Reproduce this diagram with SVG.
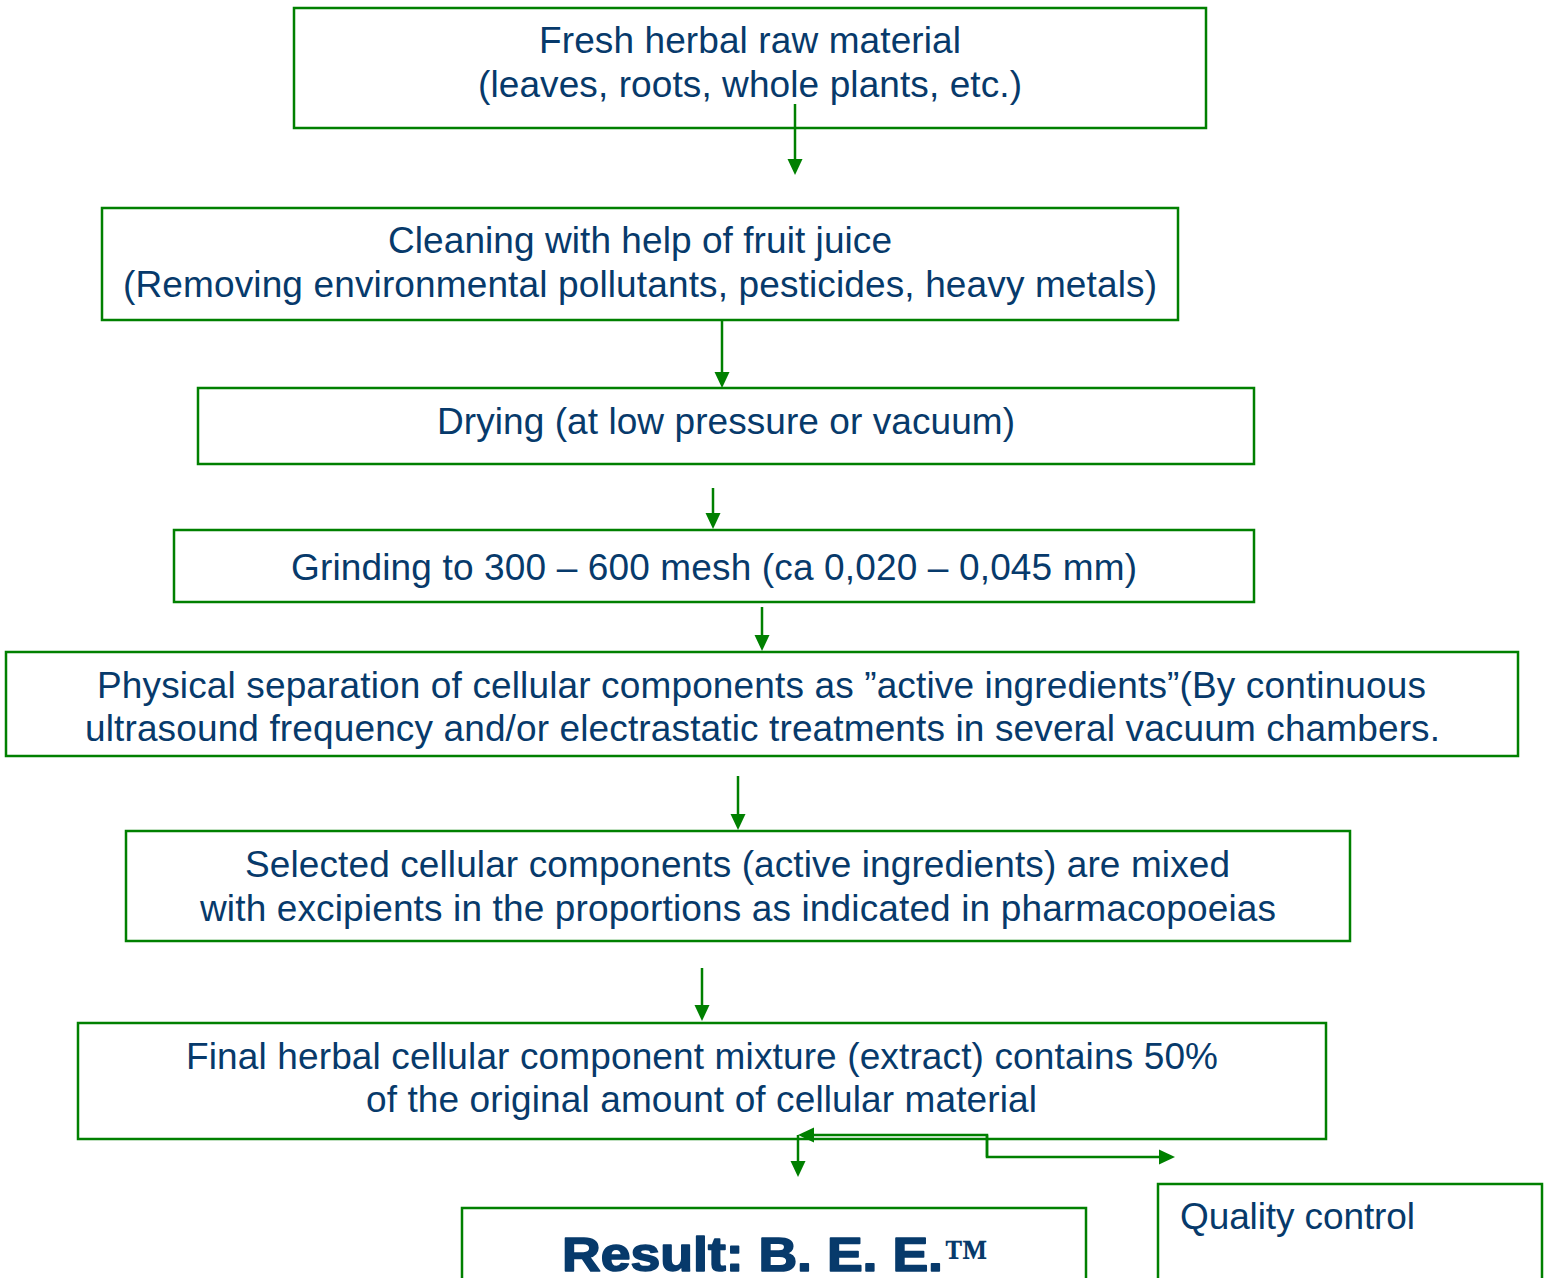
<svg xmlns="http://www.w3.org/2000/svg" width="1552" height="1278" viewBox="0 0 1552 1278">
<style>
.box{fill:#fff;stroke:#008000;stroke-width:2.5}
.t{font-family:"Liberation Sans",Arial,sans-serif;font-size:37px;fill:#073a6b;text-anchor:middle}
.tl{font-family:"Liberation Sans",Arial,sans-serif;font-size:37px;fill:#073a6b}
.c{fill:none;stroke:#008000;stroke-width:2.5;marker-end:url(#ah)}
</style>
<defs>
<marker id="ah" viewBox="0 0 16 16" refX="6" refY="8" markerWidth="16" markerHeight="16" markerUnits="userSpaceOnUse" orient="auto">
<path d="M0,0.5 L16,8 L0,15.5 z" fill="#008000"/>
</marker>
</defs>
<rect width="1552" height="1278" fill="#fff"/>
<g id="n1">
<rect class="box" x="294" y="8" width="912" height="120"/>
<text class="t" x="750" y="53" textLength="422">Fresh herbal raw material</text>
<text class="t" x="750" y="97" textLength="544">(leaves, roots, whole plants, etc.)</text>
</g>
<g id="n2">
<rect class="box" x="102" y="208" width="1076" height="112"/>
<text class="t" x="640" y="253" textLength="504">Cleaning with help of fruit juice</text>
<text class="t" x="640" y="297" textLength="1034">(Removing environmental pollutants, pesticides, heavy metals)</text>
</g>
<g id="n3">
<rect class="box" x="198" y="388" width="1056" height="76"/>
<text class="t" x="726" y="434" textLength="578">Drying (at low pressure or vacuum)</text>
</g>
<g id="n4">
<rect class="box" x="174" y="530" width="1080" height="72"/>
<text class="t" x="714" y="580" textLength="846">Grinding to 300 – 600 mesh (ca 0,020 – 0,045 mm)</text>
</g>
<g id="n5">
<rect class="box" x="6" y="652" width="1512" height="104"/>
<text class="t" x="761.5" y="698" textLength="1329">Physical separation of cellular components as ”active ingredients”(By continuous</text>
<text class="t" x="762.5" y="741" textLength="1355">ultrasound frequency and/or electrastatic treatments in several vacuum chambers.</text>
</g>
<g id="n6">
<rect class="box" x="126" y="831" width="1224" height="110"/>
<text class="t" x="737.5" y="877" textLength="985">Selected cellular components (active ingredients) are mixed</text>
<text class="t" x="738" y="921" textLength="1076">with excipients in the proportions as indicated in pharmacopoeias</text>
</g>
<g id="n7">
<rect class="box" x="78" y="1023" width="1248" height="116"/>
<text class="t" x="702" y="1069" textLength="1032">Final herbal cellular component mixture (extract) contains 50%</text>
<text class="t" x="701.5" y="1112" textLength="671">of the original amount of cellular material</text>
</g>
<g id="n8">
<rect class="box" x="462" y="1208" width="624" height="100"/>
<text x="562" y="1271" font-family="'Liberation Sans',Arial,sans-serif" font-weight="bold" font-size="48" fill="#073a6b" stroke="#073a6b" stroke-width="1.6" stroke-linejoin="round" textLength="381" lengthAdjust="spacingAndGlyphs">Result: B. E. E.</text>
<text x="944" y="1271" font-family="'Liberation Serif','Times New Roman',serif" font-weight="bold" font-size="46" fill="#073a6b" textLength="44" lengthAdjust="spacingAndGlyphs">™</text>
</g>
<g id="n9">
<rect class="box" x="1158" y="1184" width="384" height="120"/>
<text class="tl" x="1180" y="1229" textLength="235">Quality control</text>
</g>
<g id="connectors">
<path class="c" d="M795,104 L795,165"/>
<path class="c" d="M722,320 L722,378"/>
<path class="c" d="M713,488 L713,519"/>
<path class="c" d="M762,607 L762,641"/>
<path class="c" d="M738,776 L738,820"/>
<path class="c" d="M702,968 L702,1011"/>
<path class="c" d="M798,1135 L798,1167"/>
<path class="c" d="M987,1157 L987,1135 L808,1135"/>
<path class="c" d="M987,1135 L987,1157 L1165,1157"/>
</g>
</svg>
